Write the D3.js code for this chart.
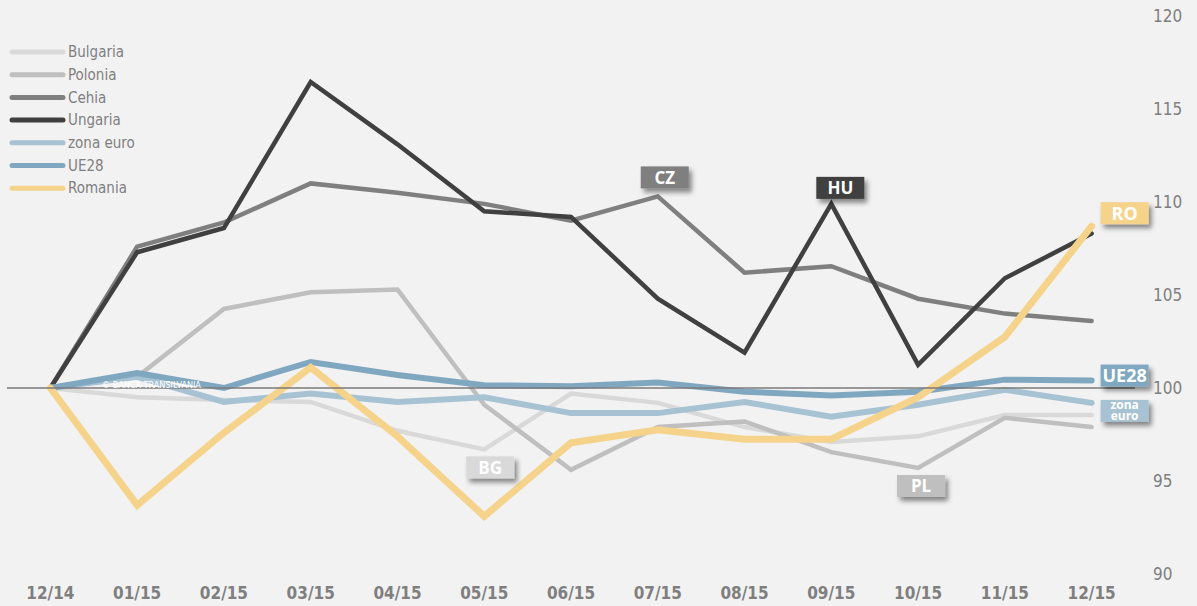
<!DOCTYPE html>
<html lang="ro">
<head>
    <meta charset="UTF-8">
    <title>Indici - Romania vs regiune</title>
    <script src="https://d3js.org/d3.v7.min.js" charset="utf-8"></script>
    <style>
        html, body {
            margin: 0;
            padding: 0;
            background: #f2f2f2;
        }
        svg {
            background: #f2f2f2;
            display: block;
        }
        .axis-x {
            font-family: 'DejaVu Sans Condensed', 'DejaVu Sans', sans-serif;
            font-weight: bold;
            font-size: 17px;
            fill: #7f7f7f;
        }
        .axis-y {
            font-family: 'DejaVu Sans Condensed', 'DejaVu Sans', sans-serif;
            font-size: 17px;
            fill: #7f7f7f;
        }
        .legend text {
            font-family: 'DejaVu Sans Condensed', 'DejaVu Sans', sans-serif;
            font-size: 15px;
            fill: #7f7f7f;
        }
        .tag text {
            font-family: 'Open Sans', sans-serif;
            font-weight: bold;
            fill: #ffffff;
        }
    </style>
</head>
<body>
    <div id="chart"></div>
    <script>
        // date (12/14 = 100)
        var months = ['12/14', '01/15', '02/15', '03/15', '04/15', '05/15', '06/15',
                      '07/15', '08/15', '09/15', '10/15', '11/15', '12/15'];
        var bulgaria = [100, 99.5, 99.35, 99.25, 97.7, 96.7, 99.7, 99.2, 97.9, 97.1, 97.4, 98.55, 98.55];
        var polonia  = [100, 100.6, 104.25, 105.15, 105.3, 99.1, 95.6, 97.9, 98.2, 96.55, 95.7, 98.4, 97.9];
        var cehia    = [100, 107.6, 108.9, 111.0, 110.5, 109.9, 109.0, 110.3, 106.2, 106.55, 104.8, 104.0, 103.6];
        var ungaria  = [100, 107.3, 108.6, 116.45, 113.1, 109.5, 109.2, 104.8, 101.9, 109.9, 101.25, 105.9, 108.3];
        var zonaEuro = [100, 100.6, 99.25, 99.7, 99.25, 99.5, 98.65, 98.65, 99.25, 98.45, 99.1, 99.9, 99.2];
        var ue28     = [100, 100.8, 100.0, 101.4, 100.7, 100.15, 100.1, 100.3, 99.8, 99.6, 99.8, 100.45, 100.4];
        var romania  = [100, 93.7, 97.6, 101.1, 97.4, 93.1, 97.05, 97.75, 97.25, 97.25, 99.5, 102.75, 108.7];
        var yTicks = [90, 95, 100, 105, 110, 115, 120];

        var svgwidth = 1197;
        var svgheight = 606;

        var series = [
            { name: 'Bulgaria',   values: bulgaria, color: '#d9d9d9', width: 4.5 },
            { name: 'Polonia',    values: polonia,  color: '#bfbfbf', width: 4.5 },
            { name: 'Cehia',      values: cehia,    color: '#7f7f7f', width: 4.5 },
            { name: 'Ungaria',    values: ungaria,  color: '#404040', width: 4.5 },
            { name: 'zona euro',  values: zonaEuro, color: '#a7c2d3', width: 6 },
            { name: 'UE28',       values: ue28,     color: '#80a7c0', width: 6 },
            { name: 'Romania',    values: romania,  color: '#f5d38b', width: 7 }
        ];

        // etichetele de la capetele / varfurile liniilor
        var tags = [
            { text: 'CZ',   serie: 'Cehia',     month: '07/15', dx: 7,  dy: -19, size: 17 },
            { text: 'HU',   serie: 'Ungaria',   month: '09/15', dx: 9,  dy: -16, size: 17 },
            { text: 'BG',   serie: 'Bulgaria',  month: '05/15', dx: 6,  dy: 18,  size: 17 },
            { text: 'PL',   serie: 'Polonia',   month: '10/15', dx: 3,  dy: 18,  size: 17 },
            { text: 'RO',   serie: 'Romania',   month: '12/15', dx: 33, dy: -13, size: 18 },
            { text: 'UE28', serie: 'UE28',      month: '12/15', dx: 33, dy: -5,  size: 18 },
            { text: 'zona euro', serie: 'zona euro', month: '12/15', dx: 33, dy: 8, size: 12 }
        ];

        var svg = d3.select('#chart')
                    .append('svg')
                    .attr('width', svgwidth)
                    .attr('height', svgheight);

        // umbra pentru etichete
        var defs = svg.append('defs');
        var shadow = defs.append('filter')
            .attr('id', 'shadow')
            .attr('x', '-30%').attr('y', '-30%')
            .attr('width', '170%').attr('height', '190%');
        shadow.append('feDropShadow')
            .attr('dx', 3)
            .attr('dy', 4)
            .attr('stdDeviation', 2.5)
            .attr('flood-color', '#000')
            .attr('flood-opacity', 0.45);

        // scale
        var x_scale = d3.scaleBand()
                        .domain(months)
                        .range([7, 1135]);
        var xc = function(m) { return x_scale(m) + x_scale.bandwidth() / 2; };

        var y_scale = d3.scaleLinear()
                        .domain([90, 120])
                        .range([574, 16]);

        // axa y in dreapta (doar etichete)
        var yAxis = svg.append('g')
            .attr('transform', 'translate(1153, 0)')
            .call(d3.axisRight(y_scale).tickValues(yTicks).tickSize(0).tickPadding(0));
        yAxis.select('.domain').remove();
        yAxis.attr('font-family', null).attr('font-size', null);
        yAxis.selectAll('.tick text')
            .attr('class', 'axis-y')
            .attr('dy', '0.35em')
            .attr('fill', null);

        // axa x jos (doar etichete)
        var xAxis = svg.append('g')
            .attr('transform', 'translate(0, 587)')
            .call(d3.axisBottom(x_scale).tickSize(0).tickPadding(0));
        xAxis.select('.domain').remove();
        xAxis.attr('font-family', null).attr('font-size', null);
        xAxis.selectAll('.tick text')
            .attr('class', 'axis-x')
            .attr('fill', null)
            .attr('dy', '0.68em');

        // liniile
        var line = d3.line()
            .x(function(d, i) { return xc(months[i]); })
            .y(function(d) { return y_scale(d); });

        svg.append('g')
            .selectAll('path')
            .data(series)
            .enter()
            .append('path')
            .attr('d', function(d) { return line(d.values); })
            .attr('fill', 'none')
            .attr('stroke', function(d) { return d.color; })
            .attr('stroke-width', function(d) { return d.width; })
            .attr('stroke-linecap', 'round')
            .attr('stroke-linejoin', 'miter');

        // axa categoriilor la 100
        svg.append('line')
            .attr('x1', 7)
            .attr('x2', 1135)
            .attr('y1', y_scale(100))
            .attr('y2', y_scale(100))
            .attr('stroke', '#7a7a7a')
            .attr('stroke-width', 1.3);

        // watermark
        svg.append('text')
            .attr('x', 102)
            .attr('y', y_scale(100))
            .attr('fill', '#ffffff')
            .style('font-family', 'DejaVu Sans Condensed, sans-serif')
            .style('font-size', '9px')
            .text('\u00A9 BANCA TRANSILVANIA');

        // legenda
        var legend = svg.append('g').attr('class', 'legend');
        var legendItems = legend.selectAll('g')
            .data(series)
            .enter()
            .append('g')
            .attr('transform', function(d, i) { return 'translate(0,' + (52 + i * 22.7) + ')'; });
        legendItems.append('line')
            .attr('x1', 12).attr('x2', 63)
            .attr('y1', 0).attr('y2', 0)
            .attr('stroke', function(d) { return d.color; })
            .attr('stroke-width', 5)
            .attr('stroke-linecap', 'round');
        legendItems.append('text')
            .attr('x', 68)
            .attr('y', 0)
            .attr('dy', '0.35em')
            .text(function(d) { return d.name; });

        // etichete cu umbra
        var tagG = svg.append('g')
            .selectAll('g')
            .data(tags)
            .enter()
            .append('g')
            .attr('class', 'tag')
            .attr('transform', function(d) {
                var s = series.find(function(e) { return e.name === d.serie; });
                var v = s.values[months.indexOf(d.month)];
                return 'translate(' + (xc(d.month) + d.dx) + ',' + (y_scale(v) + d.dy) + ')';
            });

        tagG.append('rect')
            .attr('x', -24)
            .attr('y', -11)
            .attr('width', 48)
            .attr('height', 22)
            .attr('fill', function(d) {
                return series.find(function(e) { return e.name === d.serie; }).color;
            })
            .attr('filter', 'url(#shadow)');

        tagG.each(function(d) {
            var t = d3.select(this).append('text')
                .attr('text-anchor', 'middle')
                .style('font-size', d.size + 'px');
            var words = d.text.split(' ');
            if (words.length === 1) {
                t.attr('y', 0).attr('dy', '0.36em').text(d.text);
            } else {
                t.append('tspan').attr('x', 0).attr('y', -2).text(words[0]);
                t.append('tspan').attr('x', 0).attr('y', 9).text(words[1]);
            }
        });
    </script>
</body>
</html>
